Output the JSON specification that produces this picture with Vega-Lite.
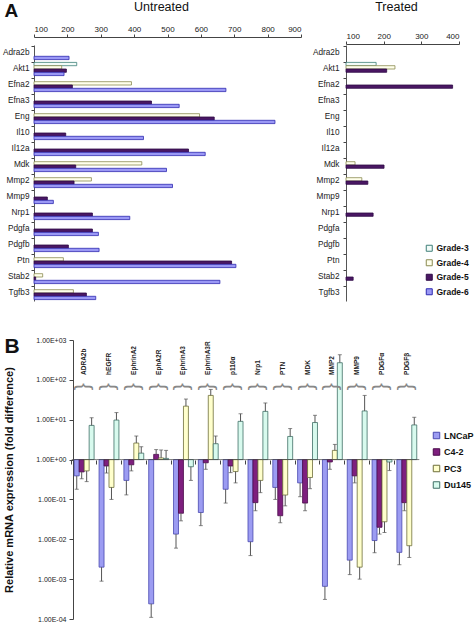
{
  "$schema": "https://vega.github.io/schema/vega-lite/v6.json",
  "padding": {"left": 2, "top": 0, "right": 0, "bottom": 0},
  "spacing": 34,
  "config": {
    "view": {"stroke": null},
    "font": "Liberation Sans",
    "axis": {"grid": false, "domainColor": "#444", "tickColor": "#444", "labelColor": "#222", "labelFont": "Liberation Sans", "titleFont": "Liberation Sans", "titleColor": "#111"},
    "legend": {"labelFont": "Liberation Sans"},
    "text": {"font": "Liberation Sans"}
  },
  "resolve": {"scale": {"fill": "independent", "stroke": "independent"}, "legend": {"fill": "independent", "stroke": "independent"}},
  "datasets": {
    "untreated": [
      {"gene": "Adra2b", "grade": "Grade-6", "value": 205},
      {"gene": "Akt1", "grade": "Grade-3", "value": 228},
      {"gene": "Akt1", "grade": "Grade-4", "value": 183},
      {"gene": "Akt1", "grade": "Grade-5", "value": 197},
      {"gene": "Akt1", "grade": "Grade-6", "value": 190},
      {"gene": "Efna2", "grade": "Grade-4", "value": 392},
      {"gene": "Efna2", "grade": "Grade-5", "value": 215},
      {"gene": "Efna2", "grade": "Grade-6", "value": 675},
      {"gene": "Efna3", "grade": "Grade-5", "value": 452},
      {"gene": "Efna3", "grade": "Grade-6", "value": 535},
      {"gene": "Eng", "grade": "Grade-4", "value": 596},
      {"gene": "Eng", "grade": "Grade-5", "value": 640},
      {"gene": "Eng", "grade": "Grade-6", "value": 822},
      {"gene": "Il10", "grade": "Grade-5", "value": 195},
      {"gene": "Il10", "grade": "Grade-6", "value": 428},
      {"gene": "Il12a", "grade": "Grade-5", "value": 563},
      {"gene": "Il12a", "grade": "Grade-6", "value": 613},
      {"gene": "Mdk", "grade": "Grade-4", "value": 423},
      {"gene": "Mdk", "grade": "Grade-5", "value": 225},
      {"gene": "Mdk", "grade": "Grade-6", "value": 497},
      {"gene": "Mmp2", "grade": "Grade-4", "value": 272},
      {"gene": "Mmp2", "grade": "Grade-5", "value": 220},
      {"gene": "Mmp2", "grade": "Grade-6", "value": 515},
      {"gene": "Mmp9", "grade": "Grade-5", "value": 140},
      {"gene": "Mmp9", "grade": "Grade-6", "value": 158},
      {"gene": "Nrp1", "grade": "Grade-5", "value": 275},
      {"gene": "Nrp1", "grade": "Grade-6", "value": 387},
      {"gene": "Pdgfa", "grade": "Grade-5", "value": 275},
      {"gene": "Pdgfa", "grade": "Grade-6", "value": 293},
      {"gene": "Pdgfb", "grade": "Grade-5", "value": 203},
      {"gene": "Pdgfb", "grade": "Grade-6", "value": 295},
      {"gene": "Ptn", "grade": "Grade-4", "value": 188},
      {"gene": "Ptn", "grade": "Grade-5", "value": 692},
      {"gene": "Ptn", "grade": "Grade-6", "value": 705},
      {"gene": "Stab2", "grade": "Grade-4", "value": 126},
      {"gene": "Stab2", "grade": "Grade-5", "value": 105},
      {"gene": "Stab2", "grade": "Grade-6", "value": 657},
      {"gene": "Tgfb3", "grade": "Grade-4", "value": 218},
      {"gene": "Tgfb3", "grade": "Grade-5", "value": 257},
      {"gene": "Tgfb3", "grade": "Grade-6", "value": 285}
    ],
    "treated": [
      {"gene": "Akt1", "grade": "Grade-3", "value": 180},
      {"gene": "Akt1", "grade": "Grade-4", "value": 230},
      {"gene": "Akt1", "grade": "Grade-5", "value": 208},
      {"gene": "Efna2", "grade": "Grade-5", "value": 383},
      {"gene": "Mdk", "grade": "Grade-4", "value": 124},
      {"gene": "Mdk", "grade": "Grade-5", "value": 201},
      {"gene": "Mmp2", "grade": "Grade-4", "value": 142},
      {"gene": "Mmp2", "grade": "Grade-5", "value": 158},
      {"gene": "Nrp1", "grade": "Grade-5", "value": 172},
      {"gene": "Stab2", "grade": "Grade-5", "value": 119}
    ],
    "cells": [
      {"gene": "ADRA2b", "cell": "LNCaP", "value": 0.39, "err": 0.18},
      {"gene": "ADRA2b", "cell": "C4-2", "value": 0.49, "err": 0.33},
      {"gene": "ADRA2b", "cell": "PC3", "value": 0.52, "err": 0.28},
      {"gene": "ADRA2b", "cell": "Du145", "value": 7.2, "err": 11.2},
      {"gene": "hEGFR", "cell": "LNCaP", "value": 0.002, "err": 0.00089},
      {"gene": "hEGFR", "cell": "C4-2", "value": 0.69, "err": 0.46},
      {"gene": "hEGFR", "cell": "PC3", "value": 0.2, "err": 0.1},
      {"gene": "hEGFR", "cell": "Du145", "value": 9.8, "err": 15.1},
      {"gene": "EphrinA2", "cell": "LNCaP", "value": 0.3, "err": 0.13},
      {"gene": "EphrinA2", "cell": "C4-2", "value": 0.74, "err": 0.52},
      {"gene": "EphrinA2", "cell": "PC3", "value": 2.6, "err": 3.9},
      {"gene": "EphrinA2", "cell": "Du145", "value": 1.45, "err": 2.1},
      {"gene": "EphA2R", "cell": "LNCaP", "value": 0.00024, "err": 0.00011},
      {"gene": "EphA2R", "cell": "C4-2", "value": 1.35, "err": 1.78},
      {"gene": "EphA2R", "cell": "PC3", "value": 1.1, "err": 1.74},
      {"gene": "EphA2R", "cell": "Du145", "value": 1.07, "err": 1.7},
      {"gene": "EphrinA3", "cell": "LNCaP", "value": 0.0135, "err": 0.006},
      {"gene": "EphrinA3", "cell": "C4-2", "value": 0.045, "err": 0.029},
      {"gene": "EphrinA3", "cell": "PC3", "value": 21.9, "err": 33},
      {"gene": "EphrinA3", "cell": "Du145", "value": 0.66, "err": 0.3},
      {"gene": "EphrinA3R", "cell": "LNCaP", "value": 0.047, "err": 0.022},
      {"gene": "EphrinA3R", "cell": "C4-2", "value": 0.83, "err": 0.57},
      {"gene": "EphrinA3R", "cell": "PC3", "value": 40.7, "err": 57.5},
      {"gene": "EphrinA3R", "cell": "Du145", "value": 2.5, "err": 3.9},
      {"gene": "p110α", "cell": "LNCaP", "value": 0.18, "err": 0.081},
      {"gene": "p110α", "cell": "C4-2", "value": 0.69, "err": 0.47},
      {"gene": "p110α", "cell": "PC3", "value": 0.5, "err": 0.26},
      {"gene": "p110α", "cell": "Du145", "value": 9.1, "err": 14.1},
      {"gene": "Nrp1", "cell": "LNCaP", "value": 0.0087, "err": 0.0039},
      {"gene": "Nrp1", "cell": "C4-2", "value": 0.083, "err": 0.052},
      {"gene": "Nrp1", "cell": "PC3", "value": 0.3, "err": 0.148},
      {"gene": "Nrp1", "cell": "Du145", "value": 16.2, "err": 26.3},
      {"gene": "PTN", "cell": "LNCaP", "value": 0.2, "err": 0.1},
      {"gene": "PTN", "cell": "C4-2", "value": 0.039, "err": 0.026},
      {"gene": "PTN", "cell": "PC3", "value": 0.129, "err": 0.069},
      {"gene": "PTN", "cell": "Du145", "value": 3.8, "err": 6},
      {"gene": "MDK", "cell": "LNCaP", "value": 0.26, "err": 0.117},
      {"gene": "MDK", "cell": "C4-2", "value": 0.081, "err": 0.052},
      {"gene": "MDK", "cell": "PC3", "value": 0.355, "err": 0.186},
      {"gene": "MDK", "cell": "Du145", "value": 8.5, "err": 12.9},
      {"gene": "MMP2", "cell": "LNCaP", "value": 0.00066, "err": 0.00031},
      {"gene": "MMP2", "cell": "C4-2", "value": 0.87, "err": 0.57},
      {"gene": "MMP2", "cell": "PC3", "value": 1.7, "err": 2.4},
      {"gene": "MMP2", "cell": "Du145", "value": 269, "err": 427},
      {"gene": "MMP9", "cell": "LNCaP", "value": 0.003, "err": 0.0013},
      {"gene": "MMP9", "cell": "C4-2", "value": 0.39, "err": 0.26},
      {"gene": "MMP9", "cell": "PC3", "value": 0.002, "err": 0.001},
      {"gene": "MMP9", "cell": "Du145", "value": 16.6, "err": 40.7},
      {"gene": "PDGFα", "cell": "LNCaP", "value": 0.0093, "err": 0.0046},
      {"gene": "PDGFα", "cell": "C4-2", "value": 0.02, "err": 0.0135},
      {"gene": "PDGFα", "cell": "PC3", "value": 0.0275, "err": 0.0148},
      {"gene": "PDGFα", "cell": "Du145", "value": 0.87, "err": 0.53},
      {"gene": "PDGFβ", "cell": "LNCaP", "value": 0.0047, "err": 0.0023},
      {"gene": "PDGFβ", "cell": "C4-2", "value": 0.083, "err": 0.052},
      {"gene": "PDGFβ", "cell": "PC3", "value": 0.0069, "err": 0.0035},
      {"gene": "PDGFβ", "cell": "Du145", "value": 7.4, "err": 11.5}
    ],
    "genesB": [
      {"gene": "ADRA2b"}, {"gene": "hEGFR"}, {"gene": "EphrinA2"}, {"gene": "EphA2R"}, {"gene": "EphrinA3"}, {"gene": "EphrinA3R"}, {"gene": "p110α"},
      {"gene": "Nrp1"}, {"gene": "PTN"}, {"gene": "MDK"}, {"gene": "MMP2"}, {"gene": "MMP9"}, {"gene": "PDGFα"}, {"gene": "PDGFβ"}
    ]
  },
  "vconcat": [
    {
      "spacing": 10,
      "resolve": {"scale": {"fill": "independent", "stroke": "independent"}, "legend": {"fill": "independent", "stroke": "independent"}},
      "hconcat": [
        {
          "width": 267,
          "height": 256,
          "data": {"name": "untreated"},
          "mark": {"type": "bar", "strokeWidth": 0.8},
          "encoding": {
            "y": {"field": "gene", "type": "nominal",
              "scale": {"domain": ["Adra2b", "Akt1", "Efna2", "Efna3", "Eng", "Il10", "Il12a", "Mdk", "Mmp2", "Mmp9", "Nrp1", "Pdgfa", "Pdgfb", "Ptn", "Stab2", "Tgfb3"], "paddingInner": 0.175, "paddingOuter": 0.0875},
              "axis": {"title": "A", "titleAngle": 0, "titleX": -30, "titleY": -29, "titleAlign": "left", "titleBaseline": "alphabetic", "titleFontSize": 19, "titleFontWeight": "bold", "labelFontSize": 8.25, "tickSize": 3, "labelPadding": 2, "bandPosition": 0, "domainColor": "#555"}},
            "yOffset": {"field": "grade", "type": "nominal", "scale": {"domain": ["Grade-3", "Grade-4", "Grade-5", "Grade-6"], "paddingInner": 0, "paddingOuter": 0}},
            "x": {"field": "value", "type": "quantitative",
              "scale": {"domain": [100, 900], "nice": false, "zero": false},
              "axis": {"orient": "top", "values": [100, 200, 300, 400, 500, 600, 700, 800, 900], "offset": 8, "title": "Untreated", "titleFontSize": 12.5, "titleFontWeight": "normal", "titlePadding": 12, "titleX": 127, "labelFontSize": 8, "tickSize": 3, "labelPadding": 1}},
            "x2": {"datum": 100},
            "fill": {"field": "grade", "type": "nominal", "scale": {"domain": ["Grade-3", "Grade-4", "Grade-5", "Grade-6"], "range": ["#F2FBF8", "#FFFFEC", "#4A1763", "#9A98F5"]}, "legend": null},
            "stroke": {"field": "grade", "type": "nominal", "scale": {"domain": ["Grade-3", "Grade-4", "Grade-5", "Grade-6"], "range": ["#3E7F78", "#8A8A50", "#2E0A45", "#2E2AB0"]}, "legend": null}
          }
        },
        {
          "width": 113,
          "height": 256,
          "data": {"name": "treated"},
          "mark": {"type": "bar", "strokeWidth": 0.8},
          "encoding": {
            "y": {"field": "gene", "type": "nominal",
              "scale": {"domain": ["Adra2b", "Akt1", "Efna2", "Efna3", "Eng", "Il10", "Il12a", "Mdk", "Mmp2", "Mmp9", "Nrp1", "Pdgfa", "Pdgfb", "Ptn", "Stab2", "Tgfb3"], "paddingInner": 0.175, "paddingOuter": 0.0875},
              "axis": {"title": null, "labelFontSize": 8.25, "tickSize": 3, "labelPadding": 4, "bandPosition": 0, "domainColor": "#555"}},
            "yOffset": {"field": "grade", "type": "nominal", "scale": {"domain": ["Grade-3", "Grade-4", "Grade-5", "Grade-6"], "paddingInner": 0, "paddingOuter": 0}},
            "x": {"field": "value", "type": "quantitative",
              "scale": {"domain": [100, 400], "nice": false, "zero": false},
              "axis": {"orient": "top", "values": [100, 200, 300, 400], "offset": 1, "title": "Treated", "titleFontSize": 12.5, "titleFontWeight": "normal", "titlePadding": 19, "titleX": 50, "labelFontSize": 8, "tickSize": 3, "labelPadding": 1}},
            "x2": {"datum": 100},
            "fill": {"field": "grade", "type": "nominal", "scale": {"domain": ["Grade-3", "Grade-4", "Grade-5", "Grade-6"], "range": ["#F2FBF8", "#FFFFEC", "#4A1763", "#9A98F5"]},
              "legend": {"orient": "none", "legendX": 79, "legendY": 199, "title": null, "labelFontSize": 8.5, "labelFontWeight": "bold", "labelColor": "#111", "labelOffset": 3, "symbolType": "square", "symbolSize": 36, "symbolStrokeWidth": 1, "rowPadding": 3.5}},
            "stroke": {"field": "grade", "type": "nominal", "scale": {"domain": ["Grade-3", "Grade-4", "Grade-5", "Grade-6"], "range": ["#3E7F78", "#8A8A50", "#2E0A45", "#2E2AB0"]},
              "legend": {"orient": "none", "legendX": 79, "legendY": 199, "title": null, "labelFontSize": 8.5, "labelFontWeight": "bold", "labelColor": "#111", "labelOffset": 3, "symbolType": "square", "symbolSize": 36, "symbolStrokeWidth": 1, "rowPadding": 3.5}}
          }
        }
      ]
    },
    {
      "width": 384,
      "height": 279,
      "encoding": {
        "x": {"field": "gene", "type": "nominal",
          "scale": {"domain": ["ADRA2b", "hEGFR", "EphrinA2", "EphA2R", "EphrinA3", "EphrinA3R", "p110α", "Nrp1", "PTN", "MDK", "MMP2", "MMP9", "PDGFα", "PDGFβ"], "paddingInner": 0.2, "paddingOuter": 0.836, "align": 0.97},
          "axis": {"orient": "bottom", "offset": -159, "labels": false, "domain": false, "title": "B", "titleX": -30, "titleY": -108, "titleAlign": "left", "titleBaseline": "alphabetic", "titleAngle": 0, "titleFontSize": 21, "titleFontWeight": "bold", "tickSize": 4, "bandPosition": -0.125}}
      },
      "layer": [
        {
          "data": {"name": "cells"},
          "mark": {"type": "bar", "strokeWidth": 0.8},
          "encoding": {
            "xOffset": {"field": "cell", "type": "nominal", "scale": {"domain": ["LNCaP", "C4-2", "PC3", "Du145"], "paddingInner": 0, "paddingOuter": 0}},
            "y": {"field": "value", "type": "quantitative",
              "scale": {"type": "log", "domain": [0.0001, 1000], "nice": false},
              "axis": {"title": "Relative mRNA expression (fold difference)", "titleFontSize": 11, "titleFontWeight": "bold", "titlePadding": 21, "offset": -39,
                "values": [0.0001, 0.001, 0.01, 0.1, 1, 10, 100, 1000],
                "labelExpr": "'1.00E' + (datum.value >= 1 ? '+' : '-') + '0' + format(abs(round(log(datum.value) / LN10)), 'd')",
                "labelFontSize": 7, "tickSize": 4, "labelPadding": 3, "domainColor": "#444"}},
            "y2": {"datum": 1},
            "fill": {"field": "cell", "type": "nominal", "scale": {"domain": ["LNCaP", "C4-2", "PC3", "Du145"], "range": ["#9C9CF2", "#7E1F7E", "#FFFFCC", "#D8FAEE"]},
              "legend": {"orient": "none", "legendX": 398, "legendY": 91, "title": null, "labelFontSize": 9, "labelFontWeight": "bold", "labelColor": "#111", "labelOffset": 3, "symbolType": "square", "symbolSize": 42, "symbolStrokeWidth": 1, "rowPadding": 5.5}},
            "stroke": {"field": "cell", "type": "nominal", "scale": {"domain": ["LNCaP", "C4-2", "PC3", "Du145"], "range": ["#4848B0", "#4A0A4A", "#6E6E3A", "#3F6F66"]},
              "legend": {"orient": "none", "legendX": 398, "legendY": 91, "title": null, "labelFontSize": 9, "labelFontWeight": "bold", "labelColor": "#111", "labelOffset": 3, "symbolType": "square", "symbolSize": 42, "symbolStrokeWidth": 1, "rowPadding": 5.5}}
          }
        },
        {
          "data": {"name": "cells"},
          "mark": {"type": "rule", "color": "#555", "strokeWidth": 1},
          "encoding": {
            "xOffset": {"field": "cell", "type": "nominal", "scale": {"domain": ["LNCaP", "C4-2", "PC3", "Du145"], "paddingInner": 0, "paddingOuter": 0}},
            "y": {"field": "value", "type": "quantitative"},
            "y2": {"field": "err"}
          }
        },
        {
          "data": {"name": "cells"},
          "mark": {"type": "tick", "color": "#555", "thickness": 1, "size": 4},
          "encoding": {
            "xOffset": {"field": "cell", "type": "nominal", "scale": {"domain": ["LNCaP", "C4-2", "PC3", "Du145"], "paddingInner": 0, "paddingOuter": 0}},
            "y": {"field": "err", "type": "quantitative"}
          }
        },
        {
          "data": {"name": "genesB"},
          "mark": {"type": "tick", "orient": "horizontal", "color": "#444", "thickness": 1, "size": 24.9},
          "encoding": {
            "y": {"datum": 1}
          }
        },
        {
          "data": {"name": "genesB"},
          "mark": {"type": "text", "angle": 270, "align": "left", "baseline": "middle", "fontSize": 6.5, "fontWeight": "bold", "color": "#222"},
          "encoding": {
            "y": {"datum": 133},
            "text": {"field": "gene"}
          }
        },
        {
          "data": {"name": "genesB"},
          "mark": {"type": "text", "angle": 90, "align": "center", "baseline": "middle", "fontSize": 21, "color": "#888", "text": "{"},
          "encoding": {
            "y": {"datum": 67}
          }
        }
      ]
    }
  ]
}
